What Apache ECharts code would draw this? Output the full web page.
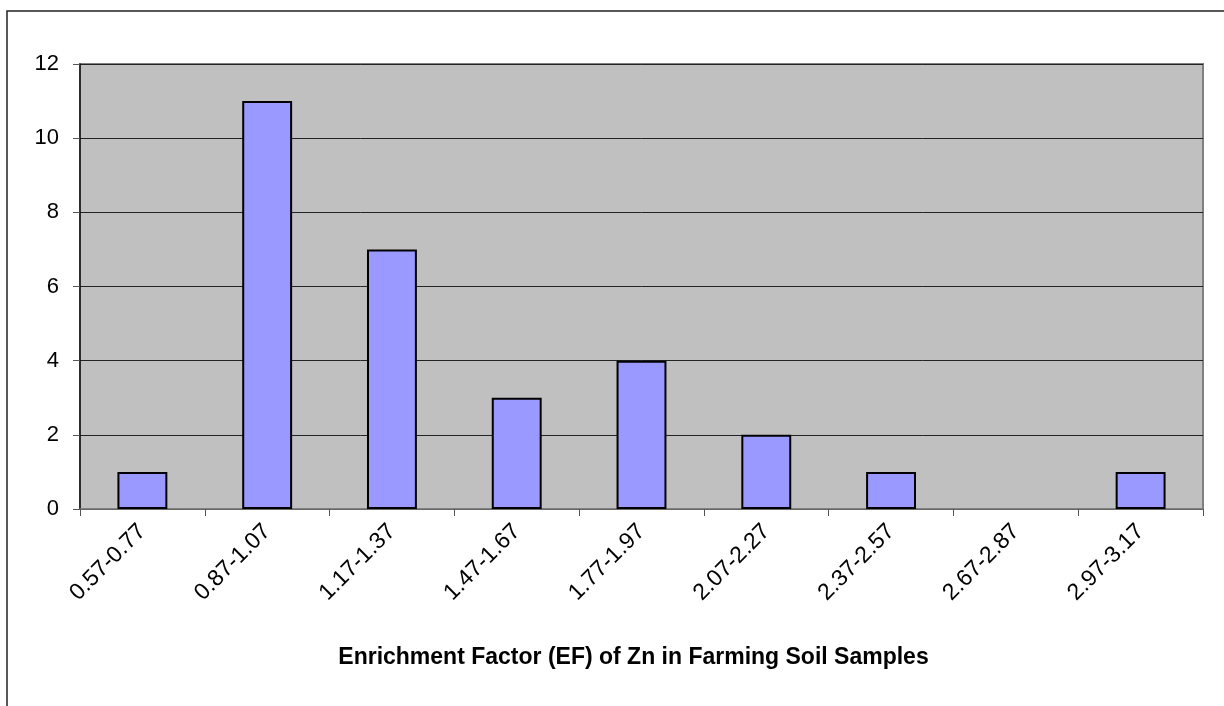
<!DOCTYPE html>
<html>
<head>
<meta charset="utf-8">
<script src="https://cdn.jsdelivr.net/npm/echarts@6/dist/echarts.min.js"></script>
<style>
  html, body { margin: 0; padding: 0; background: #fff; }
  #histogram { width: 1224px; height: 706px; }
</style>
</head>
<body>
<div id="histogram"></div>
<script>
// EF bins and sample counts
const efBins = ["0.57-0.77", "0.87-1.07", "1.17-1.37", "1.47-1.67", "1.77-1.97",
                "2.07-2.27", "2.37-2.57", "2.67-2.87", "2.97-3.17"];
const sampleCounts = [1, 11, 7, 3, 4, 2, 1, 0, 1];
const xTitle = "Enrichment Factor (EF) of Zn in Farming Soil Samples";

const chart = echarts.init(document.getElementById("histogram"));
chart.setOption({
  animation: false,
  textStyle: { fontFamily: "Liberation Sans, Arial, sans-serif" },
  graphic: [
    {
      type: "rect",
      shape: { x: 7, y: 11, width: 1240, height: 720 },
      style: { fill: "none", stroke: "#222", lineWidth: 1.5 },
      silent: true
    }
  ],
  grid: {
    left: 80, top: 64, right: 21, bottom: 197,
    show: true,
    backgroundColor: "#C0C0C0",
    borderColor: "#808080",
    borderWidth: 2
  },
  xAxis: {
    type: "category",
    data: efBins,
    boundaryGap: true,
    axisLine: { lineStyle: { color: "#808080", width: 1.5 } },
    axisTick: { show: true, length: 7, inside: false, lineStyle: { color: "#555" } },
    axisLabel: {
      rotate: 45, margin: 19, interval: 0,
      color: "#000", fontSize: 23
    },
    name: xTitle,
    nameLocation: "middle",
    nameGap: 137,
    nameTextStyle: { color: "#000", fontSize: 23, fontWeight: "bold", padding: [0, 16, 0, 0] }
  },
  yAxis: {
    type: "value",
    min: 0, max: 12, interval: 2,
    axisLine: { show: true, lineStyle: { color: "#111", width: 1.5 } },
    axisTick: { show: true, length: 7, lineStyle: { color: "#555" } },
    axisLabel: { color: "#000", fontSize: 22, margin: 21 },
    splitLine: { show: true, lineStyle: { color: "#222", width: 1 } }
  },
  series: [
    {
      type: "bar",
      // empty bins draw no bar at all
      data: sampleCounts.map(v => (v === 0 ? "-" : v)),
      barWidth: "40%",
      itemStyle: { color: "#9999FF", borderColor: "#000", borderWidth: 2 }
    }
  ]
});
</script>
</body>
</html>
